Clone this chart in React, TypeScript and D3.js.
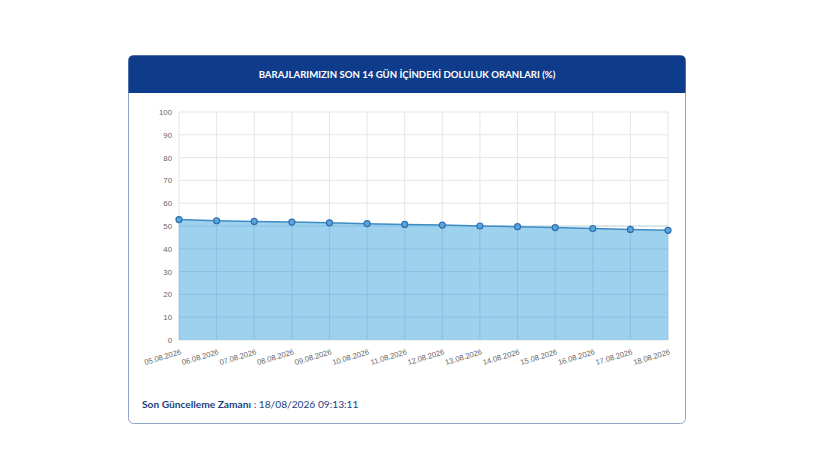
import { useEffect, useRef } from 'react';
import { scaleLinear, scalePoint, select, area, line, axisLeft, axisBottom } from 'd3';

const dates = [
  '05.08.2026', '06.08.2026', '07.08.2026', '08.08.2026', '09.08.2026', '10.08.2026', '11.08.2026',
  '12.08.2026', '13.08.2026', '14.08.2026', '15.08.2026', '16.08.2026', '17.08.2026', '18.08.2026',
];
const rates = [52.8, 52.3, 52.0, 51.7, 51.4, 51.0, 50.7, 50.4, 50.0, 49.7, 49.3, 48.9, 48.5, 48.1];
const yTicks = [0, 10, 20, 30, 40, 50, 60, 70, 80, 90, 100];

const title = 'BARAJLARIMIZIN SON 14 GÜN İÇİNDEKİ DOLULUK ORANLARI (%)';
const updatedLabel = 'Son Güncelleme Zamanı';
const updatedValue = '18/08/2026 09:13:11';

const W = 820;
const H = 461;
const card = { x: 128.5, y: 55.5, w: 557, h: 368 };
const plot = { left: 179, right: 668, top: 112, bottom: 340 };

const Chart = () => {
  const axY = useRef(null);
  const axX = useRef(null);

  const x = scalePoint().domain(dates).range([plot.left, plot.right]);
  const y = scaleLinear().domain([0, 100]).range([plot.bottom, plot.top]);

  useEffect(() => {
    if (axY.current) {
      const g = select(axY.current);
      g.call(axisLeft(y).tickValues(yTicks).tickSize(0).tickPadding(7));
      g.select('.domain').remove();
      g.selectAll('text').attr('fill', '#666').style('font-size', '7.8px').style('font-family', 'Arial, Liberation Sans, sans-serif');
    }
    if (axX.current) {
      const g = select(axX.current);
      g.call(axisBottom(x).tickSize(0).tickPadding(0));
      g.select('.domain').remove();
      g.selectAll('text')
        .attr('fill', '#666')
        .style('font-size', '7.6px')
        .style('font-family', 'Arial, Liberation Sans, sans-serif')
        .attr('text-anchor', 'end')
        .attr('dy', '0')
        .attr('transform', 'translate(2, 14) rotate(-17)');
    }
  });

  const areaPath = area<number>()
    .x((_, i) => x(dates[i]) as number)
    .y0(y(0))
    .y1((d) => y(d))(rates);
  const linePath = line<number>()
    .x((_, i) => x(dates[i]) as number)
    .y((d) => y(d))(rates);

  return (
    <svg width={W} height={H} style={{ display: 'block', position: 'absolute', left: 0, top: 0 }}>
      <rect x={0} y={0} width={W} height={H} fill="#fff" />
      <rect x={card.x} y={card.y} width={card.w} height={card.h} rx={5} fill="#fff" stroke="#8fa3c9" strokeWidth={1} />
      <path
        d={`M${card.x},${card.y + 37.5} V${card.y + 5} Q${card.x},${card.y} ${card.x + 5},${card.y} H${card.x + card.w - 5} Q${card.x + card.w},${card.y} ${card.x + card.w},${card.y + 5} V${card.y + 37.5} Z`}
        fill="#0e3c8a"
      />
      <text
        x={card.x + card.w / 2}
        y={card.y + 22}
        textAnchor="middle"
        fill="#fff"
        fontSize="9.6"
        fontWeight="bold"
        fontFamily="Lato, 'Open Sans', sans-serif"
      >
        {title}
      </text>

      {yTicks.map((t) => (
        <line key={'h' + t} x1={plot.left} x2={plot.right} y1={y(t)} y2={y(t)} stroke="#e6e6e6" strokeWidth={1} />
      ))}
      {dates.map((d) => (
        <line key={'v' + d} x1={x(d)} x2={x(d)} y1={plot.top} y2={plot.bottom} stroke="#e6e6e6" strokeWidth={1} />
      ))}

      <path d={areaPath || ''} fill="#85c5ea" fillOpacity={0.8} />
      {yTicks.slice(1, 6).map((t) => (
        <line key={'ha' + t} x1={plot.left} x2={plot.right} y1={y(t)} y2={y(t)} stroke="#6eb0d8" strokeOpacity={0.35} />
      ))}
      {dates.map((d, i) => (
        <line key={'va' + d} x1={x(d)} x2={x(d)} y1={plot.bottom} y2={y(rates[i])} stroke="#6eb0d8" strokeOpacity={0.35} />
      ))}
      <path d={linePath || ''} fill="none" stroke="#3d8cc6" strokeWidth={1.5} />
      {rates.map((r, i) => (
        <circle key={'p' + i} cx={x(dates[i])} cy={y(r)} r={3} fill="#5aa6dc" stroke="#2f6fae" strokeWidth={1.2} />
      ))}

      <g ref={axY} transform={`translate(${plot.left}, 0)`} />
      <g ref={axX} transform={`translate(0, ${plot.bottom})`} />

      <text x={142} y={408} fontSize="10.2" fontFamily="Lato, 'Open Sans', sans-serif" fill="#1b3f7e">
        <tspan fontWeight="bold">{updatedLabel}</tspan>
        <tspan> : {updatedValue}</tspan>
      </text>
    </svg>
  );
};

export default function App() {
  return <Chart />;
}
